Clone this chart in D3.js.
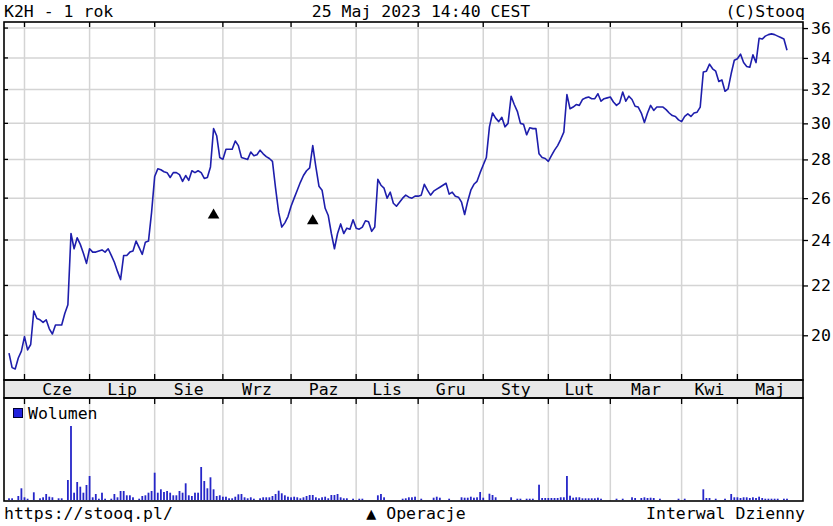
<!DOCTYPE html>
<html>
<head>
<meta charset="utf-8">
<script src="https://cdn.jsdelivr.net/npm/d3@7"></script>
<style>
  body { margin: 0; background: #fff; }
  svg text { font-family: "DejaVu Sans Mono", "Liberation Mono", monospace; font-size: 16.5px; fill: #000; }
</style>
</head>
<body>
<svg id="chart" width="833" height="526"></svg>
<script>
// daily closes, 25 May 2022 .. 25 May 2023 (one value per session)
var closes = [
  19.33, 18.8, 18.75, 19.15, 19.4, 19.95, 19.45, 19.65, 20.95, 20.65,
  20.6, 20.5, 20.6, 20.25, 20.05, 20.4, 20.4, 20.4, 20.85, 21.2,
  24.3, 23.6, 24.1, 23.8, 23.4, 22.95, 23.6, 23.45, 23.45, 23.5,
  23.55, 23.45, 23.6, 23.3, 23.0, 22.6, 22.25, 23.3, 23.3, 23.45,
  23.5, 23.95, 23.65, 23.35, 23.9, 23.95, 25.3, 27.1, 27.5, 27.45,
  27.35, 27.3, 27.05, 27.3, 27.3, 27.2, 26.85, 27.15, 26.9, 27.4,
  27.3, 27.4, 27.3, 27.0, 27.05, 27.6, 29.7, 29.3, 28.1, 28.0,
  28.55, 28.55, 28.55, 29.0, 28.75, 28.1, 28.05, 28.0, 28.4, 28.2,
  28.25, 28.5, 28.3, 28.15, 28.05, 27.9, 26.5, 25.3, 24.6, 24.8,
  25.1, 25.6, 26.0, 26.4, 26.8, 27.15, 27.4, 27.55, 28.75, 27.6,
  26.6, 26.4, 25.5, 25.15, 24.3, 23.6, 24.3, 24.75, 24.3, 24.55,
  24.5, 24.95, 24.55, 24.5, 24.6, 24.9, 24.85, 24.4, 24.6, 26.95,
  26.65, 26.5, 26.0, 26.3, 25.75, 25.6, 25.8, 26.0, 26.15, 26.05,
  26.0, 26.1, 26.1, 26.15, 26.7, 26.4, 26.15, 26.35, 26.45, 26.55,
  26.65, 26.75, 26.2, 26.3, 26.1, 26.05, 25.8, 25.2, 25.85, 26.4,
  26.7, 26.85, 27.3, 27.7, 28.1, 29.8, 30.6, 30.3, 30.1, 30.35,
  29.8, 30.0, 31.6, 31.1, 30.7, 30.0, 29.95, 29.35, 29.75, 29.7,
  29.7, 28.3, 28.1, 28.05, 27.9, 28.2, 28.5, 28.75, 29.1, 29.5,
  31.7, 30.85, 30.95, 31.1, 31.05, 31.4, 31.5, 31.55, 31.45, 31.45,
  31.75, 31.3, 31.45, 31.5, 31.55, 31.25, 31.05, 31.2, 31.85, 31.3,
  31.6, 31.4, 31.0, 30.95, 30.6, 30.05, 30.6, 31.05, 30.75, 30.95,
  30.95, 30.95, 30.8, 30.6, 30.45, 30.4, 30.2, 30.1, 30.4, 30.55,
  30.4, 30.6, 30.65, 30.95, 33.1, 33.15, 33.6, 33.3, 33.15, 32.5,
  32.6, 31.9, 32.05, 33.0, 33.85, 33.95, 34.25, 33.7, 33.45, 33.4,
  34.2, 33.7, 35.3, 35.25, 35.45, 35.55, 35.6, 35.55, 35.45, 35.35,
  35.25, 34.5
];

var volumes = [
  170, 170, 0, 400, 1170, 270, 130, 0, 770, 0,
  170, 270, 600, 330, 270, 0, 170, 170, 0, 2000,
  7400, 730, 1800, 1330, 730, 1500, 2400, 270, 600, 130,
  730, 130, 0, 130, 600, 270, 900, 900, 470, 470,
  270, 0, 130, 400, 470, 730, 900, 2730, 730, 1070,
  800, 900, 730, 470, 470, 900, 730, 1670, 470, 400,
  730, 730, 3300, 1900, 1170, 2270, 1070, 400, 470, 330,
  330, 170, 170, 330, 570, 600, 270, 170, 270, 130,
  0, 170, 270, 270, 270, 400, 600, 930, 670, 470,
  330, 270, 330, 270, 170, 270, 400, 500, 500, 270,
  170, 270, 330, 170, 500, 500, 600, 270, 170, 170,
  0, 130, 0, 130, 130, 0, 0, 0, 0, 470,
  600, 270, 0, 0, 0, 0, 0, 130, 170, 270,
  270, 330, 0, 130, 0, 0, 0, 230, 330, 230,
  0, 0, 130, 0, 0, 0, 270, 230, 230, 330,
  230, 270, 800, 230, 0, 630, 500, 270, 0, 0,
  0, 0, 270, 0, 130, 130, 0, 130, 130, 130,
  0, 1530, 200, 200, 200, 200, 200, 200, 270, 270,
  2400, 430, 230, 270, 270, 170, 170, 170, 170, 170,
  230, 130, 0, 0, 0, 0, 130, 0, 130, 0,
  0, 270, 200, 0, 200, 270, 200, 230, 200, 0,
  130, 0, 0, 0, 0, 0, 130, 0, 130, 0,
  0, 0, 0, 0, 1070, 200, 200, 0, 130, 0,
  0, 130, 0, 600, 270, 270, 200, 270, 270, 200,
  270, 200, 330, 200, 130, 130, 130, 130, 130, 0,
  130, 130
];

// session index of the first trading day of each month
var monthStarts = [5, 26, 47, 69, 91, 112, 132, 153, 174, 194, 217, 235];
var monthLabels = ["Cze", "Lip", "Sie", "Wrz", "Paz", "Lis", "Gru", "Sty", "Lut", "Mar", "Kwi", "Maj"];
var priceTicks = [20, 22, 24, 26, 28, 30, 32, 34, 36];

// "Operacje" markers: session index and price level
var opDays = [66, 98];
var opLevels = [25.17, 24.89];

var left = 4, right = 803;
var mainTop = 22, mainBottom = 380, bandBottom = 398, volBottom = 501;

var svg = d3.select("#chart");

var x = d3.scaleLinear().domain([0, closes.length - 1]).range([9, 787]);
var y = d3.scaleLog().domain([18.36, 36.42]).range([mainBottom, mainTop]);
var vy = d3.scaleLinear().domain([0, d3.max(volumes)]).range([500, 426]);

var gridColor = "#d4d4d4";

// header
svg.append("text").attr("x", 4).attr("y", 17).text("K2H - 1 rok");
svg.append("text").attr("x", 421).attr("y", 17).attr("text-anchor", "middle").text("25 Maj 2023 14:40 CEST");
svg.append("text").attr("x", 805).attr("y", 17).attr("text-anchor", "end").text("(C)Stooq");

// horizontal grid
svg.append("g").selectAll("line").data(priceTicks).enter().append("line")
  .attr("x1", left).attr("x2", right)
  .attr("y1", function(d){ return y(d); }).attr("y2", function(d){ return y(d); })
  .attr("stroke", gridColor).attr("stroke-width", 1.5);

// vertical grid (price + volume panel)
var vg = svg.append("g");
monthStarts.forEach(function(m){
  var xx = x(m);
  vg.append("line").attr("x1", xx).attr("x2", xx).attr("y1", mainTop).attr("y2", mainBottom)
    .attr("stroke", gridColor).attr("stroke-width", 1.5);
  vg.append("line").attr("x1", xx).attr("x2", xx).attr("y1", bandBottom).attr("y2", volBottom)
    .attr("stroke", gridColor).attr("stroke-width", 1.5);
});

// price line
var line = d3.line()
  .x(function(d, i){ return x(i); })
  .y(function(d){ return y(d); });

svg.append("path").datum(closes)
  .attr("d", line)
  .attr("fill", "none")
  .attr("stroke", "#1e1eac")
  .attr("stroke-width", 1.6)
  .attr("stroke-linejoin", "round");

// operation markers
svg.append("g").selectAll("path").data(opDays).enter().append("path")
  .attr("d", d3.symbol().type(d3.symbolTriangle).size(58))
  .attr("transform", function(d, i){ return "translate(" + x(d) + "," + y(opLevels[i]) + ")"; })
  .attr("fill", "#000");

// volume bars
svg.append("g").selectAll("rect").data(volumes).enter().append("rect")
  .attr("x", function(d, i){ return x(i) - 0.9; })
  .attr("width", 1.8)
  .attr("y", function(d){ return vy(d); })
  .attr("height", function(d){ return 500 - vy(d); })
  .attr("fill", "#2626c8");

// month band
svg.append("rect").attr("x", left).attr("y", mainBottom).attr("width", right - left).attr("height", bandBottom - mainBottom)
  .attr("fill", "#e8e8e8");

svg.append("g").selectAll("text").data(monthLabels).enter().append("text")
  .attr("x", function(d, i){
    var a = x(monthStarts[i]);
    var b = i < monthStarts.length - 1 ? x(monthStarts[i + 1]) : right;
    return (a + b) / 2;
  })
  .attr("y", 395)
  .attr("text-anchor", "middle")
  .text(function(d){ return d; });

// frames
var frame = svg.append("g").attr("fill", "none").attr("stroke", "#000").attr("stroke-width", 1.6);
frame.append("rect").attr("x", left).attr("y", mainTop).attr("width", right - left).attr("height", mainBottom - mainTop);
frame.append("rect").attr("x", left).attr("y", mainBottom).attr("width", right - left).attr("height", bandBottom - mainBottom);
frame.append("rect").attr("x", left).attr("y", bandBottom).attr("width", right - left).attr("height", volBottom - bandBottom);

// month ticks
var tk = svg.append("g").attr("stroke", "#000").attr("stroke-width", 1.3);
monthStarts.forEach(function(m){
  var xx = x(m);
  tk.append("line").attr("x1", xx).attr("x2", xx).attr("y1", mainTop).attr("y2", mainTop + 5);
  tk.append("line").attr("x1", xx).attr("x2", xx).attr("y1", mainBottom - 6).attr("y2", mainBottom);
  tk.append("line").attr("x1", xx).attr("x2", xx).attr("y1", bandBottom).attr("y2", bandBottom + 6);
});
priceTicks.forEach(function(p){
  tk.append("line").attr("x1", left).attr("x2", left + 4).attr("y1", y(p)).attr("y2", y(p));
});

// right price axis
var yAxis = d3.axisRight(y).tickValues(priceTicks).tickSize(5).tickPadding(3).tickFormat(d3.format("d"));
var ga = svg.append("g").attr("transform", "translate(" + right + ",0)").call(yAxis);
ga.select(".domain").remove();
ga.selectAll(".tick line").attr("stroke", "#000").attr("stroke-width", 1.3);
ga.selectAll(".tick text").attr("font-family", null).attr("font-size", null).attr("fill", "#000");

// volume legend
svg.append("rect").attr("x", 13.5).attr("y", 408.5).attr("width", 9).attr("height", 9)
  .attr("fill", "#2222dd").attr("stroke", "#000033").attr("stroke-width", 1);
svg.append("text").attr("x", 28).attr("y", 419).text("Wolumen");

// footer
svg.append("text").attr("x", 4).attr("y", 519).text("https://stooq.pl/");
svg.append("text").attr("x", 416).attr("y", 519).attr("text-anchor", "middle").text("\u25B2 Operacje");
svg.append("text").attr("x", 805).attr("y", 519).attr("text-anchor", "end").text("Interwal Dzienny");
</script>
</body>
</html>
